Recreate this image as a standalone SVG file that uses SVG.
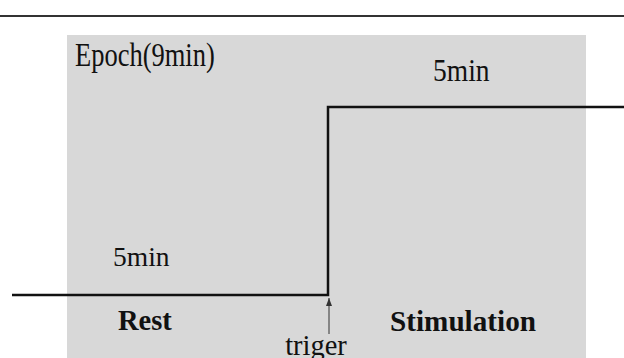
<svg xmlns="http://www.w3.org/2000/svg" width="624" height="358" viewBox="0 0 624 358">
  <defs>
    <marker id="arrowhead" viewBox="0 0 8 6" refX="8" refY="3" markerWidth="8" markerHeight="6" markerUnits="userSpaceOnUse" orient="auto">
      <path d="M0,0 L8,3 L0,6 Z" fill="#333"/>
    </marker>
  </defs>
  <style>
    .lbl { font-family: "Liberation Serif", "Times New Roman", serif; fill: #111; }
    .bold { font-weight: bold; }
    .step { fill: none; stroke: #111; stroke-width: 2.5; }
  </style>
  <rect width="624" height="358" fill="#ffffff"/>
  <!-- top rule -->
  <line x1="0" y1="16" x2="624" y2="16" stroke="#333" stroke-width="2"/>
  <!-- epoch panel -->
  <g id="epoch">
    <rect x="67" y="35" width="519" height="323" fill="#d8d8d8"/>
    <text class="lbl" transform="translate(75,66) scale(1,1.25)" font-size="26.5">Epoch(9min)</text>
  </g>
  <g id="rest">
    <text class="lbl" x="113" y="266" font-size="27.5">5min</text>
    <text class="lbl bold" x="118" y="330" font-size="28.5">Rest</text>
  </g>
  <g id="stimulation">
    <text class="lbl" transform="translate(433,81) scale(1,1.15)" font-size="27.5">5min</text>
    <text class="lbl bold" x="390" y="331" font-size="29.2">Stimulation</text>
  </g>
  <g id="trigger">
    <text class="lbl" x="316" y="355" font-size="28.5" text-anchor="middle">triger</text>
  </g>
  <g id="connectors">
    <polyline class="step" points="12,295 328,295 328,107 624,107"/>
    <line x1="329" y1="334" x2="329" y2="298" stroke="#333" stroke-width="1" marker-end="url(#arrowhead)"/>
  </g>
</svg>
